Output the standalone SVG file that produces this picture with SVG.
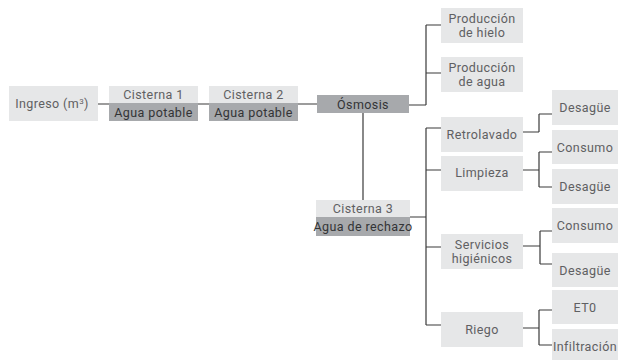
<svg xmlns="http://www.w3.org/2000/svg" width="620" height="360" viewBox="0 0 620 360">
<style>
.l{fill:#e6e7e8}
.d{fill:#a7a9ac}
text{font-family:Roboto,"Liberation Sans",sans-serif;font-size:12.5px;letter-spacing:0.4px;fill:#5f6062;text-anchor:middle}
text.k{fill:#333436}
.c{fill:none;stroke:#3a3a3a;stroke-width:1.2}
</style>
<rect width="620" height="360" fill="#ffffff"/>
<g id="connectors">
<path class="c" d="M98 104H109M198 104H209M298 104H317"/>
<path class="c" d="M409 105H426M426 25V105M426 25H441M426 73H441"/>
<path class="c" d="M363 113V200"/>
<path class="c" d="M410 217H426M426 128V325M426 128H441M426 170H441M426 247H441M426 325H441"/>
<path class="c" d="M523 132H539M539 114V132M539 114H552"/>
<path class="c" d="M523 170H539M539 152V187M539 152H552M539 187H552"/>
<path class="c" d="M523 246H540M540 231V264M540 231H552M540 264H552"/>
<path class="c" d="M523 328H539M539 310V345M539 310H552M539 345H552"/>
</g>
<g id="ingreso"><rect class="l" x="9" y="86" width="89" height="35"/><text x="52" y="108">Ingreso (m<tspan font-size="8" dy="-4.5">3</tspan><tspan dy="4.5">)</tspan></text></g>
<g id="cisterna1"><rect class="l" x="109" y="86" width="89" height="17"/><rect class="d" x="109" y="103" width="89" height="18"/><text x="153.5" y="99">Cisterna 1</text><text class="k" x="153.5" y="117">Agua potable</text></g>
<g id="cisterna2"><rect class="l" x="209" y="86" width="89" height="17"/><rect class="d" x="209" y="103" width="89" height="18"/><text x="253.5" y="99">Cisterna 2</text><text class="k" x="253.5" y="117">Agua potable</text></g>
<g id="osmosis"><rect class="d" x="317" y="95" width="92" height="18"/><text class="k" x="363" y="108.5">Ósmosis</text></g>
<g id="cisterna3"><rect class="l" x="316" y="200" width="94" height="17"/><rect class="d" x="316" y="217" width="94" height="19"/><text x="363" y="213">Cisterna 3</text><text class="k" x="363" y="231" font-size="12" letter-spacing="0.1">Agua de rechazo</text></g>
<g id="hielo"><rect class="l" x="441" y="8" width="82" height="35"/><text x="482" y="22.5">Producción</text><text x="482" y="37.3">de hielo</text></g>
<g id="prodagua"><rect class="l" x="441" y="57" width="82" height="35"/><text x="482" y="71.5">Producción</text><text x="482" y="86.3">de agua</text></g>
<g id="retrolavado"><rect class="l" x="441" y="117" width="82" height="35"/><text x="482" y="138.5">Retrolavado</text></g>
<g id="limpieza"><rect class="l" x="441" y="156" width="82" height="35"/><text x="482" y="177">Limpieza</text></g>
<g id="servicios"><rect class="l" x="441" y="234" width="82" height="35"/><text x="482" y="248.5">Servicios</text><text x="482" y="263.3">higiénicos</text></g>
<g id="riego"><rect class="l" x="441" y="312" width="82" height="35"/><text x="482" y="334">Riego</text></g>
<g id="desague1"><rect class="l" x="552" y="90" width="66" height="35"/><text x="585" y="112">Desagüe</text></g>
<g id="consumo1"><rect class="l" x="552" y="130" width="66" height="34"/><text x="585" y="151.5">Consumo</text></g>
<g id="desague2"><rect class="l" x="552" y="169" width="66" height="35"/><text x="585" y="191">Desagüe</text></g>
<g id="consumo2"><rect class="l" x="552" y="208" width="66" height="35"/><text x="585" y="230">Consumo</text></g>
<g id="desague3"><rect class="l" x="552" y="253" width="66" height="34"/><text x="585" y="274.5">Desagüe</text></g>
<g id="eto"><rect class="l" x="552" y="290" width="66" height="34"/><text x="585" y="311.5">ET0</text></g>
<g id="infiltracion"><rect class="l" x="552" y="329" width="66" height="35"/><text x="585" y="351" font-size="12" letter-spacing="0.1">Infiltración</text></g>
</svg>
